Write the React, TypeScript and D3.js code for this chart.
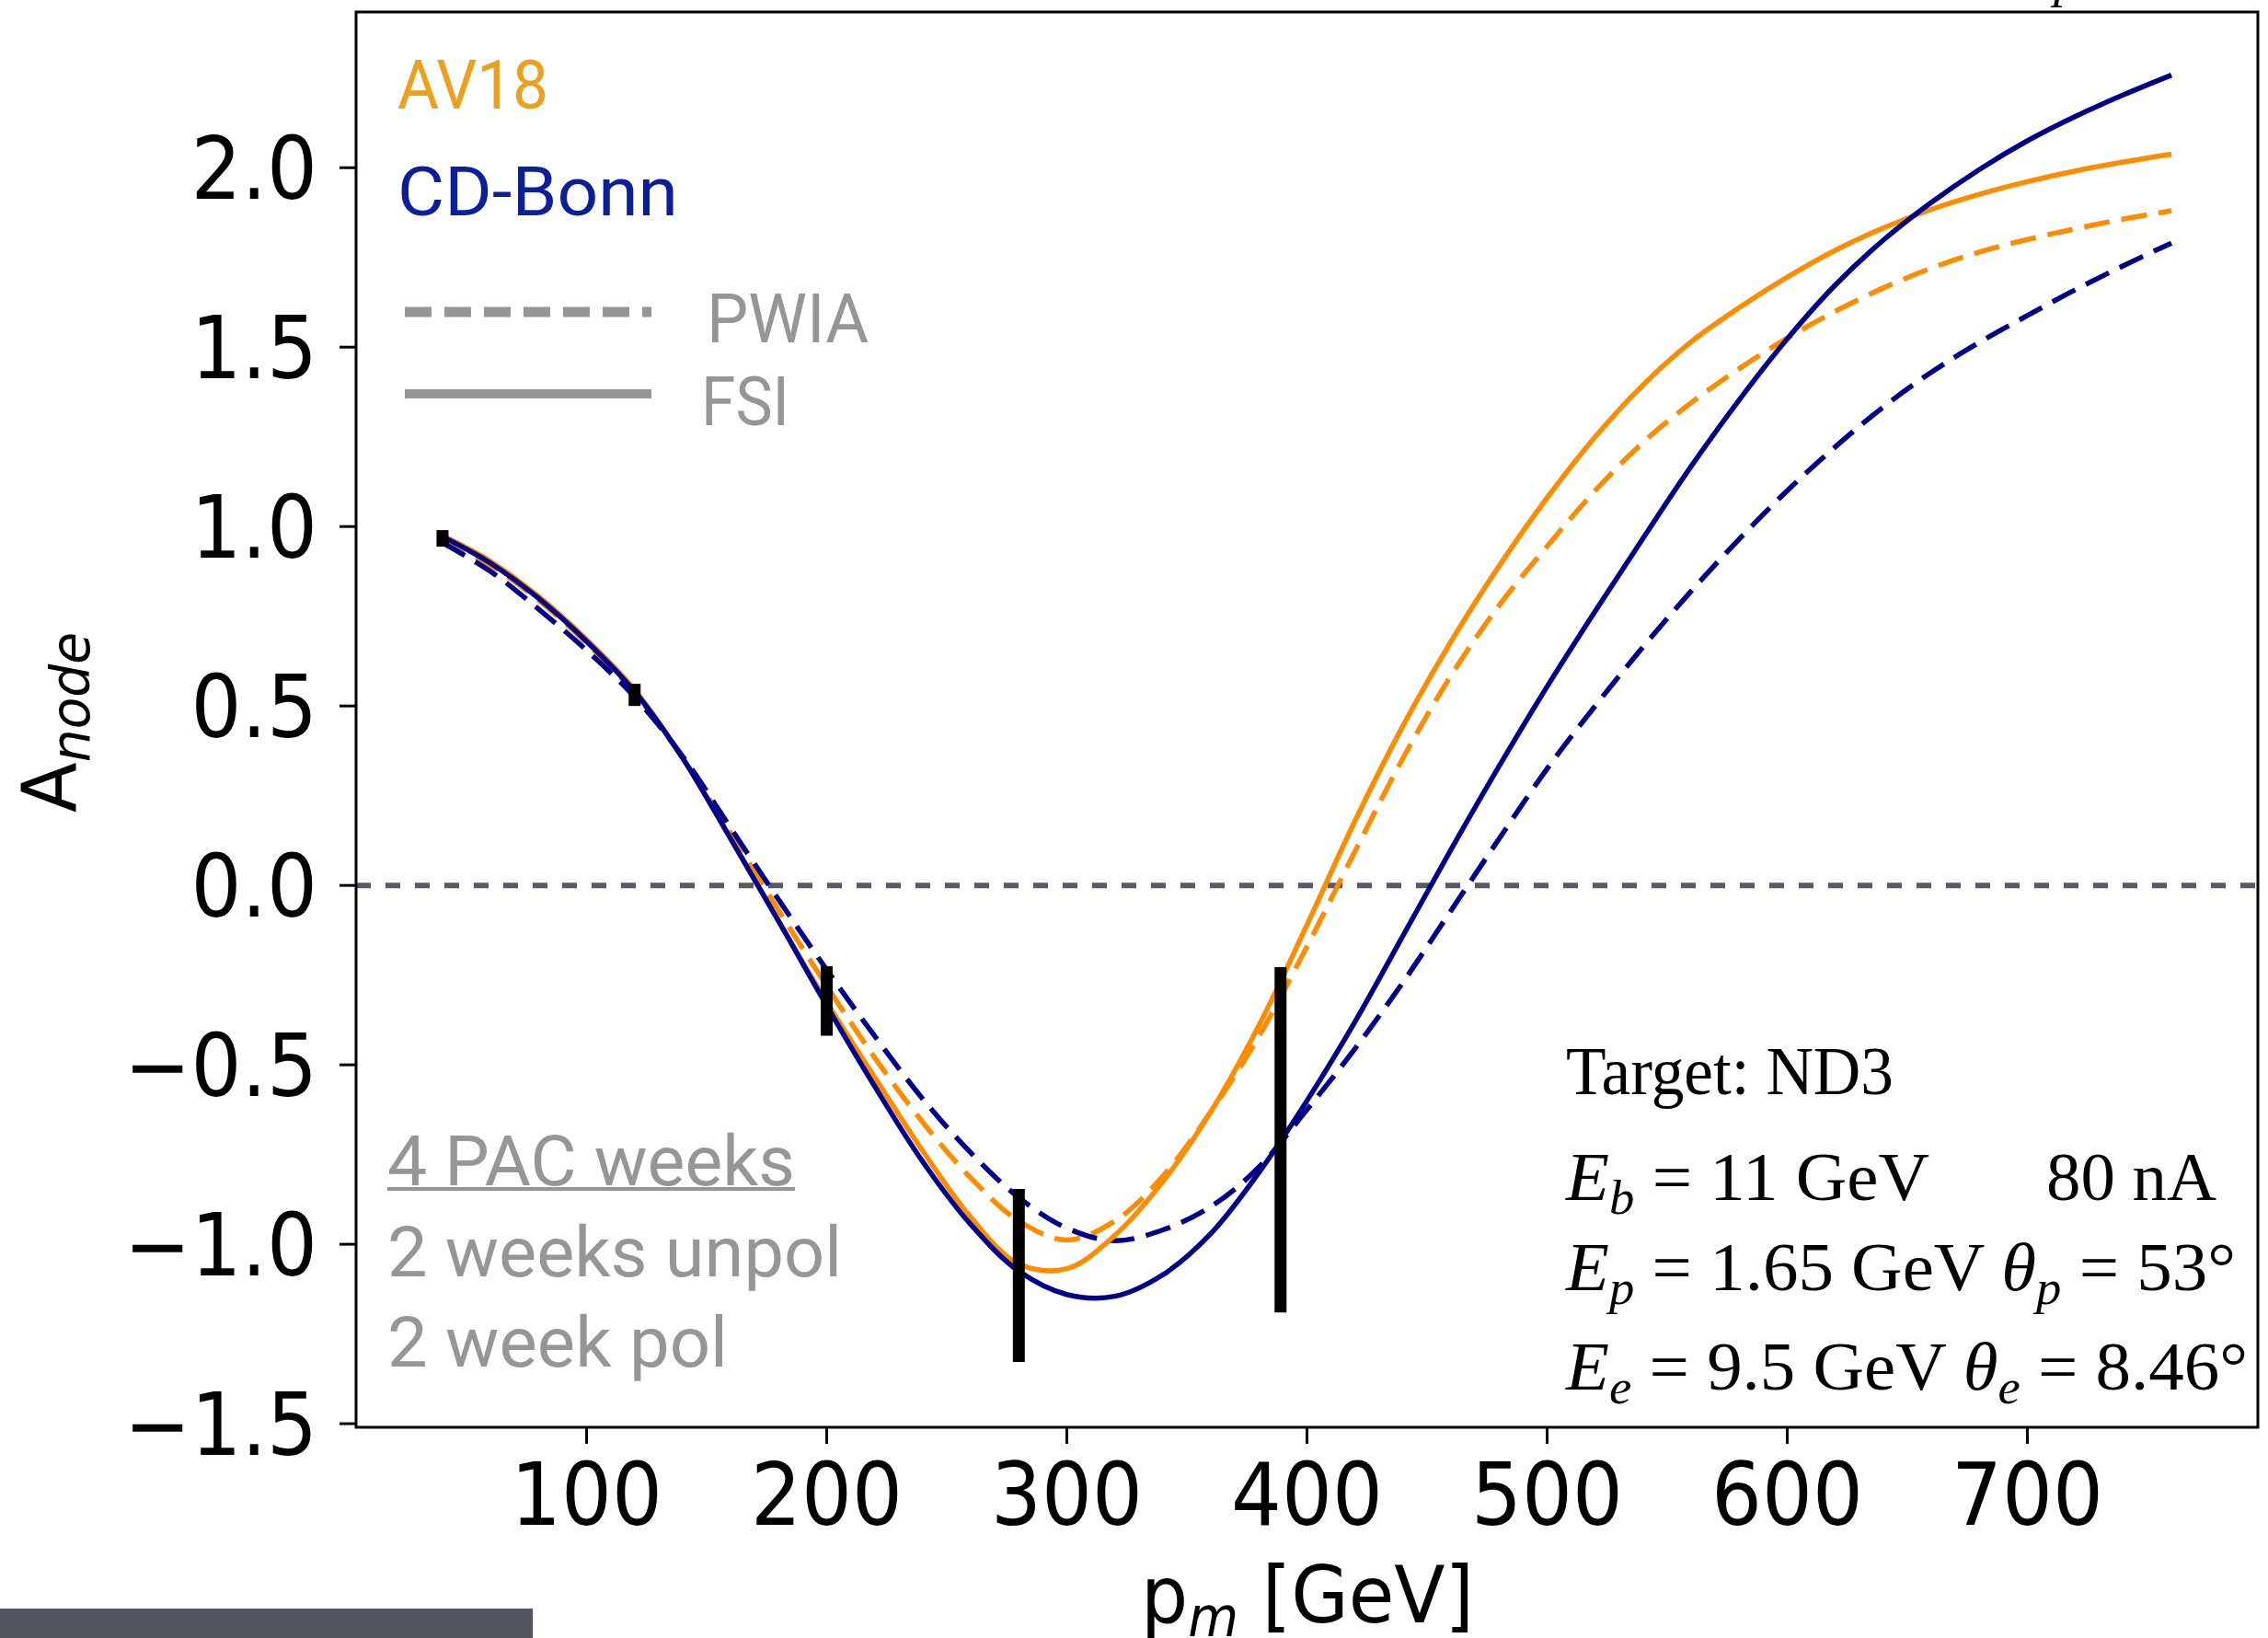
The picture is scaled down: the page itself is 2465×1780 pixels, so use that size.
import React from "react";
import * as d3 from "d3";

// ---- data ----
const pm = [40, 60, 80, 100, 120, 140, 160, 180, 200, 220, 240, 260, 280, 300, 320, 340, 360, 380, 400, 420, 440, 460, 480, 500, 520, 540, 560, 580, 600, 620, 640, 660, 680, 700, 720, 740, 760];

const av18FSI = [0.975, 0.903, 0.805, 0.685, 0.545, 0.355, 0.13, -0.1, -0.325, -0.535, -0.74, -0.925, -1.055, -1.068, -0.975, -0.825, -0.63, -0.39, -0.11, 0.18, 0.445, 0.68, 0.89, 1.08, 1.25, 1.395, 1.515, 1.61, 1.695, 1.77, 1.832, 1.884, 1.926, 1.961, 1.991, 2.016, 2.038];
const cdbFSI = [0.972, 0.898, 0.8, 0.68, 0.54, 0.355, 0.13, -0.1, -0.335, -0.56, -0.77, -0.945, -1.075, -1.14, -1.145, -1.085, -0.97, -0.8, -0.6, -0.38, -0.14, 0.1, 0.332, 0.554, 0.764, 0.968, 1.168, 1.353, 1.523, 1.673, 1.798, 1.903, 1.995, 2.075, 2.143, 2.203, 2.258];
const av18PWIA = [0.965, 0.892, 0.795, 0.675, 0.535, 0.355, 0.145, -0.07, -0.28, -0.48, -0.66, -0.815, -0.935, -0.988, -0.935, -0.81, -0.63, -0.42, -0.17, 0.095, 0.355, 0.585, 0.78, 0.945, 1.1, 1.235, 1.345, 1.44, 1.525, 1.6, 1.665, 1.72, 1.765, 1.8, 1.83, 1.857, 1.88];
const cdbPWIA = [0.955, 0.875, 0.77, 0.655, 0.525, 0.36, 0.16, -0.04, -0.235, -0.42, -0.595, -0.745, -0.87, -0.955, -0.99, -0.96, -0.895, -0.785, -0.625, -0.455, -0.27, -0.07, 0.13, 0.325, 0.5, 0.665, 0.82, 0.965, 1.1, 1.222, 1.333, 1.43, 1.513, 1.588, 1.66, 1.727, 1.79];

const errX = [40, 120, 200, 280, 389];
const errY = [0.967, 0.531, -0.322, -1.087, -0.709];
const errE = [0.023, 0.031, 0.097, 0.241, 0.481];

const xTicks = [100, 200, 300, 400, 500, 600, 700];
const yTicks = [-1.5, -1.0, -0.5, 0.0, 0.5, 1.0, 1.5, 2.0];

const ORANGE = "#FF8C00";
const BLUE = "#00008B";
const GRAY = "#969696";

export default function App() {
  const W = 2465, H = 1780;
  const L = 387, R = 2454, T = 13, B = 1551;
  const x = d3.scaleLinear().domain([4, 796]).range([L, R]);
  const y = d3.scaleLinear().domain([-1.51, 2.434]).range([B, T]);

  const line = (vals: number[]) =>
    d3.line<number>()
      .x((_, i) => x(pm[i]))
      .y((v) => y(v))
      .curve(d3.curveCatmullRom.alpha(0.5))(vals) || "";

  const series = [
    { v: av18PWIA, c: ORANGE, dash: "28,13" },
    { v: cdbPWIA, c: BLUE, dash: "28,13" },
    { v: av18FSI, c: ORANGE, dash: null },
    { v: cdbFSI, c: BLUE, dash: null },
  ];

  const fmt = (v: number) => d3.format(".1f")(v).replace("-", "\u2212");
  const tickFont = { fontFamily: "DejaVu Sans", fontSize: 94, fill: "#000" };

  return (
    <svg width={W} height={H} viewBox={`0 0 ${W} ${H}`}
      style={{ position: "absolute", left: 0, top: 0, background: "#fff" }}>
      <rect x={0} y={0} width={W} height={H} fill="#fff" />

      {/* cut-off text fragment at the very top */}
      <text x={2232} y={-4} fontFamily="Liberation Serif" fontStyle="italic" fontSize={56} fill="#000">p</text>

      {/* zero line */}
      <line x1={L} x2={R} y1={y(0)} y2={y(0)} stroke="#565b61" strokeWidth={6} strokeDasharray="16,16" />

      {/* curves */}
      {series.map((s, i) => (
        <path key={i} d={line(s.v)} fill="none" stroke={s.c} strokeWidth={5.5}
          strokeDasharray={s.dash || undefined} />
      ))}

      {/* error bars */}
      {errX.map((ex, i) => (
        <line key={i} x1={x(ex)} x2={x(ex)} y1={y(errY[i] - errE[i])} y2={y(errY[i] + errE[i])}
          stroke="#000" strokeWidth={13} />
      ))}

      {/* frame */}
      <rect x={L} y={T} width={R - L} height={B - T} fill="none" stroke="#000" strokeWidth={3} />

      {/* x ticks */}
      {xTicks.map((t) => (
        <g key={t}>
          <line x1={x(t)} x2={x(t)} y1={B} y2={B + 18} stroke="#000" strokeWidth={3} />
          <text transform={`translate(${x(t)},${1657}) scale(0.92,1)`} textAnchor="middle" {...tickFont}>{t}</text>
        </g>
      ))}
      {/* y ticks */}
      {yTicks.map((t) => (
        <g key={t}>
          <line x1={L - 18} x2={L} y1={y(t)} y2={y(t)} stroke="#000" strokeWidth={3} />
          <text transform={`translate(${345},${y(t) + 34}) scale(0.92,1)`} textAnchor="end" {...tickFont}>{fmt(t)}</text>
        </g>
      ))}

      {/* axis labels */}
      <text x={1421} y={1763} textAnchor="middle" fontFamily="DejaVu Sans" fontSize={86} fill="#000"
        textLength={362} lengthAdjust="spacingAndGlyphs">
        p<tspan fontStyle="italic" fontSize={60} dy={15}>m</tspan><tspan dy={-15}> [GeV]</tspan>
      </text>
      <text transform="translate(82,785) rotate(-90)" textAnchor="middle" fontFamily="DejaVu Sans" fontSize={82} fill="#000"
        textLength={196} lengthAdjust="spacingAndGlyphs">
        A<tspan fontStyle="italic" fontSize={58} dy={15}>node</tspan>
      </text>

      {/* model legend */}
      <text x={432} y={118} fontFamily="Roboto" fontSize={75} fill="#EBA11F" textLength={164} lengthAdjust="spacingAndGlyphs">AV18</text>
      <text x={432} y={234} fontFamily="Roboto" fontSize={75} fill="#0B1F9A" textLength={305} lengthAdjust="spacingAndGlyphs">CD-Bonn</text>

      <line x1={440} x2={708} y1={339} y2={339} stroke={GRAY} strokeWidth={11} strokeDasharray="29,14" />
      <line x1={440} x2={708} y1={428} y2={428} stroke={GRAY} strokeWidth={10} />
      <text x={768} y={372} fontFamily="Roboto" fontSize={75} fill={GRAY} textLength={176} lengthAdjust="spacingAndGlyphs">PWIA</text>
      <text x={762} y={462} fontFamily="Roboto" fontSize={75} fill={GRAY} textLength={96} lengthAdjust="spacingAndGlyphs">FSI</text>

      {/* beam time note */}
      <text x={421} y={1288} fontFamily="Roboto" fontSize={76} fill={GRAY} textLength={443} lengthAdjust="spacingAndGlyphs">4 PAC weeks</text>
      <line x1={421} x2={864} y1={1292} y2={1292} stroke={GRAY} strokeWidth={4} />
      <text x={421} y={1387} fontFamily="Roboto" fontSize={76} fill={GRAY} textLength={494} lengthAdjust="spacingAndGlyphs">2 weeks unpol</text>
      <text x={421} y={1485} fontFamily="Roboto" fontSize={76} fill={GRAY} textLength={370} lengthAdjust="spacingAndGlyphs">2 week pol</text>

      {/* kinematics annotation */}
      <g fontFamily="Liberation Serif" fill="#000">
        <text x={1702} y={1189} fontSize={73} textLength={356} lengthAdjust="spacingAndGlyphs">Target: ND3</text>
        <text x={1702} y={1304} fontSize={73} textLength={395} lengthAdjust="spacingAndGlyphs">
          <tspan fontStyle="italic">E</tspan><tspan fontStyle="italic" fontSize={52} dy={15}>b</tspan><tspan dy={-15}>{" = 11 GeV"}</tspan>
        </text>
        <text x={2224} y={1304} fontSize={73} textLength={185} lengthAdjust="spacingAndGlyphs">80 nA</text>
        <text x={1702} y={1402} fontSize={73} textLength={728} lengthAdjust="spacingAndGlyphs">
          <tspan fontStyle="italic">E</tspan><tspan fontStyle="italic" fontSize={52} dy={15}>p</tspan><tspan dy={-15}>{" = 1.65 GeV "}</tspan>
          <tspan fontStyle="italic">θ</tspan><tspan fontStyle="italic" fontSize={52} dy={15}>p</tspan><tspan dy={-15}>{" = 53°"}</tspan>
        </text>
        <text x={1702} y={1510} fontSize={73} textLength={741} lengthAdjust="spacingAndGlyphs">
          <tspan fontStyle="italic">E</tspan><tspan fontStyle="italic" fontSize={52} dy={15}>e</tspan><tspan dy={-15}>{" = 9.5 GeV "}</tspan>
          <tspan fontStyle="italic">θ</tspan><tspan fontStyle="italic" fontSize={52} dy={15}>e</tspan><tspan dy={-15}>{" = 8.46°"}</tspan>
        </text>
      </g>

      {/* dark bar bottom-left */}
      <rect x={0} y={1748} width={579} height={32} fill="#51555e" />
    </svg>
  );
}
